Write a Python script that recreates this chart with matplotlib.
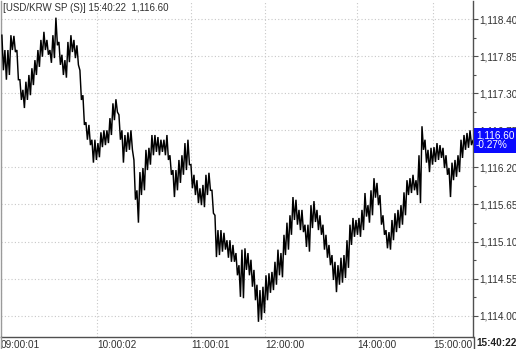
import numpy as np
import matplotlib
matplotlib.use("Agg")
import matplotlib.pyplot as plt
import matplotlib.transforms as mtransforms
from matplotlib.lines import Line2D
from matplotlib.ticker import FixedLocator, FuncFormatter

plt.rcParams["font.family"] = ["Liberation Sans", "DejaVu Sans"]

# USD/KRW spot, tick chart read as high/low per small time bucket
bucket_high = [
    1118.16, 1117.94, 1117.94, 1118.16, 1118.15, 1117.94, 1117.50, 1117.35, 1117.47, 1117.57,
    1117.67, 1117.79, 1117.94, 1118.09, 1118.21, 1118.09, 1117.94, 1118.16, 1118.42, 1118.06,
    1117.87, 1117.79, 1118.06, 1118.16, 1118.09, 1118.01, 1117.64, 1117.27, 1116.87, 1116.83,
    1116.61, 1116.61, 1116.56, 1116.72, 1116.75, 1116.75, 1116.93, 1117.15, 1117.21, 1116.98,
    1116.75, 1116.68, 1116.72, 1116.75, 1116.31, 1115.86, 1116.13, 1116.19, 1116.46, 1116.49,
    1116.68, 1116.68, 1116.65, 1116.61, 1116.61, 1116.68, 1116.38, 1116.16, 1116.16, 1116.31,
    1116.38, 1116.56, 1116.61, 1116.24, 1116.09, 1116.01, 1115.89, 1115.94, 1116.09, 1116.12,
    1115.86, 1115.49, 1115.27, 1115.27, 1115.23, 1115.12, 1115.12, 1115.05, 1114.93, 1114.75,
    1114.98, 1115.00, 1114.93, 1114.83, 1114.68, 1114.46, 1114.38, 1114.43, 1114.60, 1114.63,
    1114.65, 1114.80, 1114.98, 1114.93, 1115.20, 1115.38, 1115.49, 1115.76, 1115.72, 1115.57,
    1115.57, 1115.35, 1115.35, 1115.64, 1115.70, 1115.57, 1115.49, 1115.35, 1115.20, 1115.05,
    1114.90, 1114.80, 1114.75, 1114.86, 1114.90, 1115.12, 1115.35, 1115.45, 1115.42, 1115.45,
    1115.57, 1115.82, 1115.64, 1115.86, 1116.04, 1115.97, 1115.79, 1115.49, 1115.27, 1115.24,
    1115.42, 1115.52, 1115.57, 1115.64, 1115.83, 1116.01, 1116.04, 1116.09, 1116.01, 1116.38,
    1116.81, 1116.61, 1116.46, 1116.49, 1116.50, 1116.56, 1116.53, 1116.49, 1116.38, 1116.19,
    1116.27, 1116.31, 1116.38, 1116.61, 1116.68, 1116.71, 1116.75,
]
bucket_low = [
    1117.64, 1117.50, 1117.57, 1117.94, 1117.91, 1117.50, 1117.20, 1117.08, 1117.20, 1117.27,
    1117.42, 1117.57, 1117.69, 1117.84, 1117.94, 1117.87, 1117.75, 1117.82, 1118.01, 1117.72,
    1117.57, 1117.53, 1117.76, 1117.91, 1117.82, 1117.72, 1117.20, 1116.83, 1116.61, 1116.53,
    1116.27, 1116.31, 1116.35, 1116.50, 1116.53, 1116.56, 1116.68, 1116.90, 1117.02, 1116.61,
    1116.27, 1116.43, 1116.46, 1116.46, 1115.72, 1115.38, 1115.79, 1115.86, 1116.16, 1116.24,
    1116.38, 1116.43, 1116.38, 1116.43, 1116.38, 1116.31, 1116.09, 1115.76, 1115.86, 1115.97,
    1116.09, 1116.16, 1116.24, 1115.89, 1115.79, 1115.67, 1115.64, 1115.61, 1115.79, 1115.86,
    1115.52, 1114.87, 1114.90, 1114.95, 1114.98, 1114.86, 1114.80, 1114.80, 1114.60, 1114.28,
    1114.26, 1114.68, 1114.60, 1114.43, 1114.23, 1113.91, 1113.94, 1114.04, 1114.23, 1114.34,
    1114.38, 1114.46, 1114.60, 1114.57, 1114.90, 1114.98, 1115.20, 1115.42, 1115.35, 1115.27,
    1115.24, 1115.02, 1114.95, 1115.30, 1115.39, 1115.27, 1115.20, 1114.98, 1114.86, 1114.75,
    1114.53, 1114.35, 1114.46, 1114.49, 1114.56, 1114.71, 1115.05, 1115.17, 1115.20, 1115.17,
    1115.27, 1115.47, 1115.38, 1115.49, 1115.75, 1115.64, 1115.35, 1115.20, 1115.00, 1114.98,
    1115.12, 1115.24, 1115.30, 1115.35, 1115.49, 1115.79, 1115.82, 1115.86, 1115.79, 1115.67,
    1116.46, 1116.27, 1116.13, 1116.24, 1116.28, 1116.31, 1116.34, 1116.19, 1116.09, 1115.76,
    1116.01, 1116.06, 1116.13, 1116.34, 1116.46, 1116.49, 1116.53,
]
last_price = 1116.60
last_change = "-0.27%"
last_time = "15:40:22"

y_ticks = [1114.00, 1114.55, 1115.10, 1115.65, 1116.20, 1116.75, 1117.30, 1117.85, 1118.40]
x_tick_pos = [-0.3, 31.7, 63.0, 87.7, 118.4, 143.7]
x_tick_labels = ["09:00:01", "10:00:02", "11:00:01", "12:00:00", "14:00:00", "15:00:00"]

W, H = 516, 349
fig = plt.figure(figsize=(W / 100, H / 100), dpi=100)
ax = fig.add_axes([1 / W, 12 / H, 472 / W, 336 / H])

seq = np.column_stack([bucket_high, bucket_low]).ravel()
seq = np.append(seq, last_price)
xs = np.arange(len(seq)) * 0.5
ax.plot(xs, seq, color="black", lw=1.05, solid_joinstyle="miter", zorder=3)

ax.set_xlim(-0.3, 157.0)
ax.set_ylim(1113.685, 1118.667)

# axes / spines
ax.spines["top"].set_visible(False)
ax.spines["left"].set_color("#9a9a9a")
ax.spines["right"].set_color("#505050")
ax.spines["bottom"].set_color("#505050")
for s in ("left", "right", "bottom"):
    ax.spines[s].set_linewidth(1.0)

ax.yaxis.tick_right()
ax.yaxis.set_major_locator(FixedLocator(y_ticks))
minor = [(a + b) / 2 for a, b in zip(y_ticks[:-1], y_ticks[1:])]
ax.yaxis.set_minor_locator(FixedLocator(minor))
ax.yaxis.set_major_formatter(FuncFormatter(lambda v, p: f"{v:,.2f}"))
ax.tick_params(axis="y", which="major", direction="out", length=3.5, width=0.8,
               color="#505050", pad=1, labelsize=7.2, labelcolor="#303030")
ax.tick_params(axis="y", which="minor", direction="out", length=2.5, width=0.8, color="#505050")

ax.set_xticks(x_tick_pos)
ax.set_xticklabels(x_tick_labels, ha="left")
ax.tick_params(axis="x", length=0, pad=2, labelsize=7.2, labelcolor="#303030")

ax.grid(True, which="major", color="#c8c8c8", lw=0.8, linestyle=(0, (1, 2)))

# frame lines continuing through the time-label row
fig.add_artist(Line2D([473.5 / W, 473.5 / W], [0, 12 / H], color="#505050", lw=1.0))
fig.add_artist(Line2D([1 / W, 1 / W], [0, 12 / H], color="#9a9a9a", lw=1.0))

# title inside top-left
fig.text(3 / W, 1 - 8 / H, f"[USD/KRW SP (S)] {last_time}  {last_price:,.2f}",
         fontsize=7.0, color="#303030", va="center", ha="left")

# last price marker on the right axis
trans = mtransforms.blended_transform_factory(ax.transAxes, ax.transData)
ax.text(1.0 + 3 / 472, last_price, f"{last_price:,.2f}\n{last_change}", transform=trans,
        ha="left", va="center", fontsize=7.2, color="white", linespacing=1.0,
        bbox=dict(boxstyle="square,pad=0.25", fc="#0a0aff", ec="none"),
        clip_on=False, zorder=10)

# last time label under the right axis
fig.text(476 / W, 1 - 343 / H, last_time, fontsize=7.2, weight="bold",
         color="#202020", va="center", ha="left")

fig.savefig("out.png", dpi=100, facecolor="white")
